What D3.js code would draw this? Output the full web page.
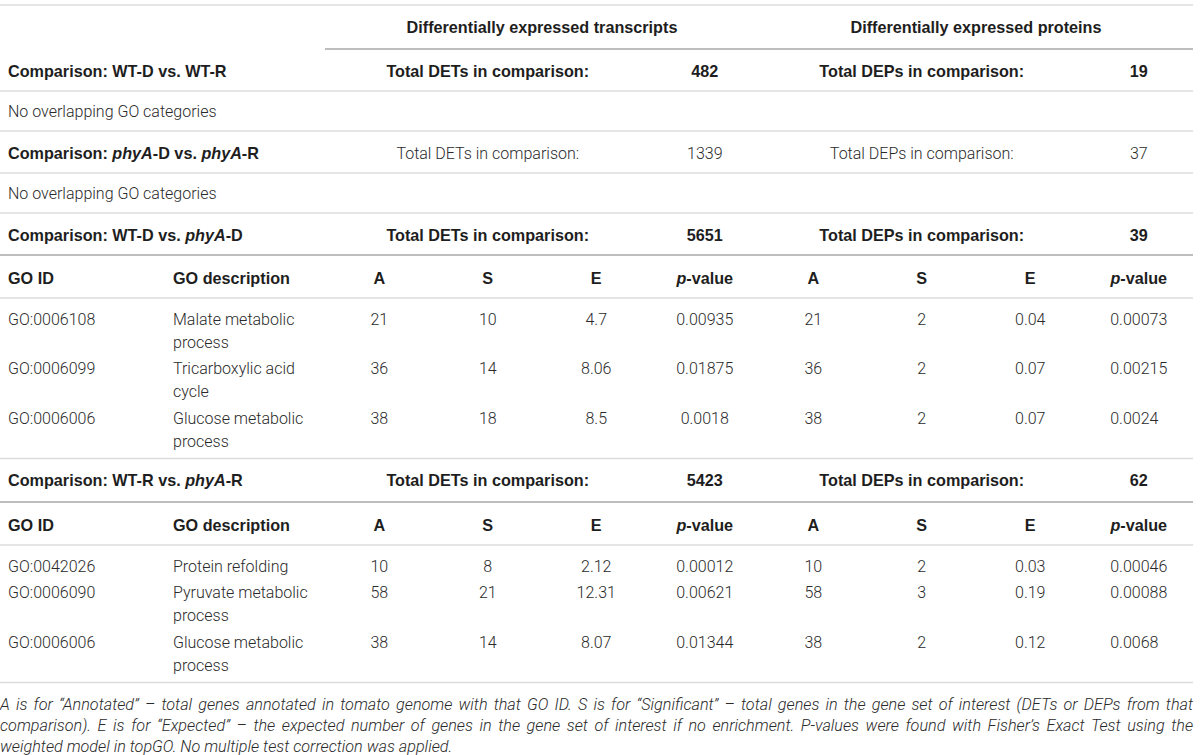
<!DOCTYPE html>
<html>
<head>
<meta charset="utf-8">
<script src="https://cdn.jsdelivr.net/npm/d3@7"></script>
<style>
  body { margin: 0; background: #fff; }
  text { font-size: 16px; }
  .bold { font-family: "Liberation Sans", Arial, sans-serif; font-weight: 700; fill: #1e1e1e; font-size: 16.2px; }
  .light { font-family: Roboto, "Liberation Sans", sans-serif; font-weight: 300; fill: #2a2a2a; font-size: 16px; }
  .note { font-family: Roboto, "Liberation Sans", sans-serif; font-weight: 300; font-style: italic; fill: #2a2a2a; font-size: 16.2px; }
</style>
</head>
<body>
<div id="table-container"></div>
<script>
const comparisonLabels = ["WT-D vs. WT-R", "phyA-D vs. phyA-R", "WT-D vs. phyA-D", "WT-R vs. phyA-R"];
const detTotals = [482, 1339, 5651, 5423];
const depTotals = [19, 37, 39, 62];

const goIds = [[], [], ["GO:0006108", "GO:0006099", "GO:0006006"], ["GO:0042026", "GO:0006090", "GO:0006006"]];
const goTerms = [[], [], ["Malate metabolic process", "Tricarboxylic acid cycle", "Glucose metabolic process"],
                 ["Protein refolding", "Pyruvate metabolic process", "Glucose metabolic process"]];

// transcripts (DETs)
const detA = [[], [], [21, 36, 38], [10, 58, 38]];
const detS = [[], [], [10, 14, 18], [8, 21, 14]];
const detE = [[], [], [4.7, 8.06, 8.5], [2.12, 12.31, 8.07]];
const detP = [[], [], [0.00935, 0.01875, 0.0018], [0.00012, 0.00621, 0.01344]];
// proteins (DEPs)
const depA = [[], [], [21, 36, 38], [10, 58, 38]];
const depS = [[], [], [2, 2, 2], [2, 3, 2]];
const depE = [[], [], [0.04, 0.07, 0.07], [0.03, 0.19, 0.12]];
const depP = [[], [], [0.00073, 0.00215, 0.0024], [0.00046, 0.00088, 0.0068]];

const groupTitles = ["Differentially expressed transcripts", "Differentially expressed proteins"];
const statKeys = ["detA", "detS", "detE", "detP", "depA", "depS", "depE", "depP"];
const statHeaders = ["A", "S", "E", "p-value", "A", "S", "E", "p-value"];
const emptyNote = "No overlapping GO categories";
const footnote = [
  "A is for \u201cAnnotated\u201d \u2013 total genes annotated in tomato genome with that GO ID. S is for \u201cSignificant\u201d \u2013 total genes in the gene set of interest (DETs or DEPs from that",
  "comparison). E is for \u201cExpected\u201d \u2013 the expected number of genes in the gene set of interest if no enrichment. P-values were found with Fisher\u2019s Exact Test using the",
  "weighted model in topGO. No multiple test correction was applied."
];
const statValues = {detA, detS, detE, detP, depA, depS, depE, depP};

// layout
const width = 1200, height = 755;
const tableRight = 1193, statLeft = 325;
const padX = 8, descX = 173, descWidth = 145;
const lineH = 23;

const svg = d3.select("#table-container")
  .append("svg")
    .attr("width", width)
    .attr("height", height);

const x = d3.scaleBand().domain(statKeys).range([statLeft, tableRight]);
const cx = k => x(k) + x.bandwidth() / 2;

const ruleG = svg.append("g");
const textG = svg.append("g");

function rule(y, x0, dark) {
  ruleG.append("line")
    .attr("x1", x0).attr("x2", tableRight)
    .attr("y1", y).attr("y2", y)
    .attr("stroke", dark ? "#a9a9a9" : "#dcdcdc")
    .attr("stroke-width", 1.5);
}

// writes text, italicising "phyA" and the p of "p-value"
function cell(xp, y, str, cls, anchor) {
  const t = textG.append("text")
    .attr("class", cls)
    .attr("x", xp).attr("y", y).attr("dy", "0.35em")
    .attr("text-anchor", anchor || "start");
  String(str).split(/(phyA|^p(?=-value))/).filter(s => s !== "").forEach(s => {
    t.append("tspan")
      .attr("font-style", (s === "phyA" || s === "p") ? "italic" : null)
      .text(s);
  });
  return t;
}

function textWidth(str, cls) {
  const probe = textG.append("text").attr("class", cls).text(str);
  const w = probe.node().getComputedTextLength();
  probe.remove();
  return w;
}

// break a description into lines that fit the column
function wrapLines(str) {
  const lines = [];
  let line = [];
  str.split(" ").forEach(w => {
    if (textWidth([...line, w].join(" "), "light") > descWidth && line.length) {
      lines.push(line.join(" "));
      line = [w];
    } else line.push(w);
  });
  lines.push(line.join(" "));
  return lines;
}

let y = 5;
rule(y, 0, false);

// group header row
textG.selectAll(".group")
  .data(groupTitles)
  .join("text")
    .attr("class", "bold group")
    .attr("x", (d, i) => i === 0 ? (x("detA") + x("detP") + x.bandwidth()) / 2 : (x("depA") + x("depP") + x.bandwidth()) / 2)
    .attr("y", y + 22).attr("dy", "0.35em")
    .attr("text-anchor", "middle")
    .text(d => d);
y += 44;
rule(y, statLeft, true);

comparisonLabels.forEach((label, i) => {
  const plain = i === 1; // this summary line is set in light type in the original
  const cls = plain ? "light" : "bold";
  const hasTerms = goIds[i].length > 0;
  cell(padX, y + 22, "Comparison: " + label, "bold");
  cell((x("detA") + x("detE") + x.bandwidth()) / 2, y + 22, "Total DETs in comparison:", cls, "middle");
  cell(cx("detP"), y + 22, detTotals[i], cls, "middle");
  cell((x("depA") + x("depE") + x.bandwidth()) / 2, y + 22, "Total DEPs in comparison:", cls, "middle");
  cell(cx("depP"), y + 22, depTotals[i], cls, "middle");
  y += (hasTerms && i > 2) ? 43.5 : 42;

  if (!hasTerms) {
    rule(y, 0, false);
    cell(padX, y + 20, emptyNote, "light");
    y += 40;
    rule(y, 0, false);
    return;
  }

  rule(y, 0, true);
  // column header row
  cell(padX, y + 23, "GO ID", "bold");
  cell(descX, y + 23, "GO description", "bold");
  statKeys.forEach((k, j) => cell(cx(k), y + 23, statHeaders[j], "bold", "middle"));
  y += 43;
  rule(y, 0, false);

  // the protein p-values sit flush left under their header
  const pLeft = cx("depP") - d3.max(depP[i], v => textWidth(String(v), "light")) / 2;

  let top = y + 9.5;
  goIds[i].forEach((id, r) => {
    const lines = wrapLines(goTerms[i][r]);
    const mid = top + lineH / 2;
    cell(padX, mid, id, "light");
    lines.forEach((ln, l) => cell(descX, mid + l * lineH, ln, "light"));
    statKeys.forEach(k => {
      if (k === "depP") cell(pLeft, mid, statValues[k][i][r], "light");
      else cell(cx(k), mid, statValues[k][i][r], "light", "middle");
    });
    top += lines.length * lineH + 3.5;
  });
  y = top + 2.5;
  rule(y, 0, false);
});

// footnote, justified to the table width
footnote.forEach((ln, l) => {
  const t = textG.append("text")
    .attr("class", "note")
    .attr("x", 0)
    .attr("y", y + 22 + l * 21).attr("dy", "0.35em")
    .text(ln);
  if (l < footnote.length - 1) {
    const gaps = ln.split(" ").length - 1;
    const extra = Math.max(0, (tableRight - t.node().getComputedTextLength()) / gaps);
    t.style("word-spacing", extra + "px");
  }
});
</script>
</body>
</html>
